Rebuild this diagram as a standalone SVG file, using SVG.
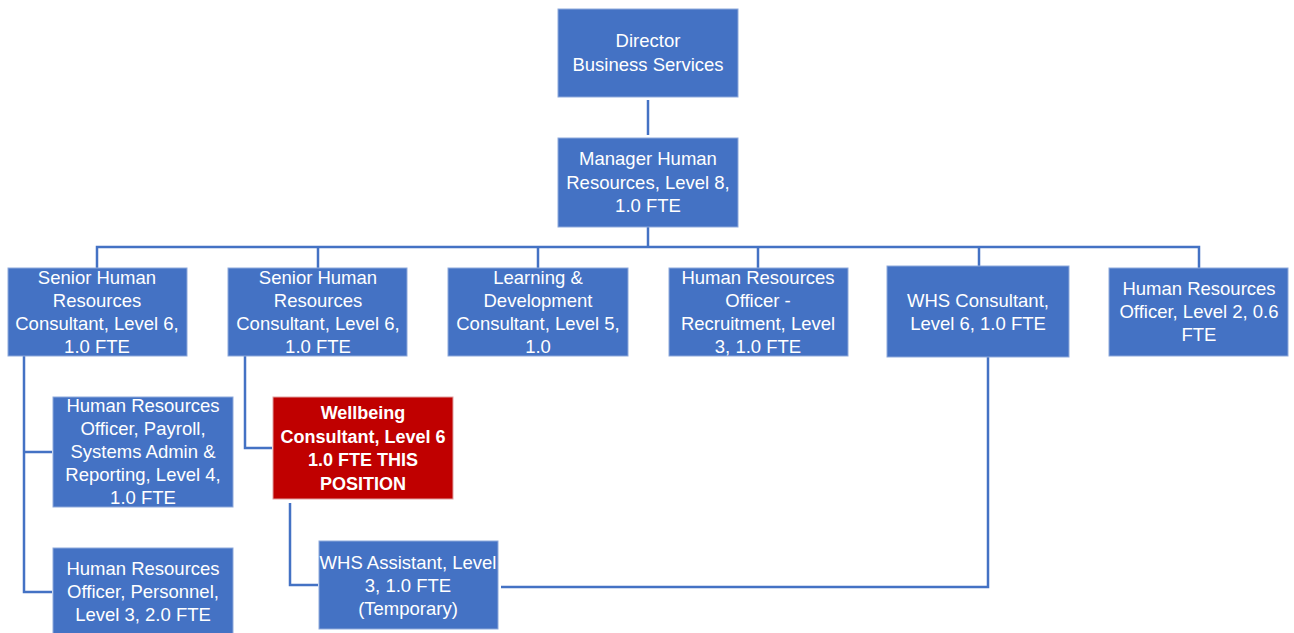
<svg xmlns="http://www.w3.org/2000/svg" width="1294" height="633" viewBox="0 0 1294 633">
<style>
.box{fill:#4472C4;stroke:#8EA9DB;stroke-width:1}
.red{fill:#C00000;stroke:#E0A0A0;stroke-width:1}
.t{font-family:"Liberation Sans",Arial,sans-serif;font-size:18.5px;fill:#ffffff;text-anchor:middle}
.b{font-weight:bold;font-size:18px}
.c{fill:none;stroke:#4472C4;stroke-width:2.5}
</style>
<rect width="1294" height="633" fill="#ffffff"/>
<g id="connectors">
<path class="c" d="M648 100V135"/>
<path class="c" d="M648 227V247"/>
<path class="c" d="M97 268V247H1199V268"/>
<path class="c" d="M318 247V268M538 247V268M758 247V268M979 247V266"/>
<path class="c" d="M24 356V592H52M24 452H52"/>
<path class="c" d="M245 356V448H272"/>
<path class="c" d="M290 503V585H318"/>
<path class="c" d="M988 357V587H501"/>
</g>
<g id="director"><rect class="box" x="558" y="9" width="180" height="88"/>
<text class="t"><tspan x="648" y="47">Director</tspan><tspan x="648" y="71">Business Services</tspan></text></g>
<g id="manager"><rect class="box" x="558" y="138" width="180" height="89"/>
<text class="t"><tspan x="648" y="165">Manager Human</tspan><tspan x="648" y="189">Resources, Level 8,</tspan><tspan x="648" y="212">1.0 FTE</tspan></text></g>
<g id="senior1"><rect class="box" x="8" y="268" width="179" height="88"/>
<text class="t"><tspan x="97" y="284">Senior Human</tspan><tspan x="97" y="307">Resources</tspan><tspan x="97" y="330">Consultant, Level 6,</tspan><tspan x="97" y="353">1.0 FTE</tspan></text></g>
<g id="senior2"><rect class="box" x="228" y="268" width="179" height="88"/>
<text class="t"><tspan x="318" y="284">Senior Human</tspan><tspan x="318" y="307">Resources</tspan><tspan x="318" y="330">Consultant, Level 6,</tspan><tspan x="318" y="353">1.0 FTE</tspan></text></g>
<g id="learning"><rect class="box" x="448" y="268" width="180" height="88"/>
<text class="t"><tspan x="538" y="284">Learning &amp;</tspan><tspan x="538" y="307">Development</tspan><tspan x="538" y="330">Consultant, Level 5,</tspan><tspan x="538" y="353">1.0</tspan></text></g>
<g id="recruitment"><rect class="box" x="669" y="268" width="179" height="88"/>
<text class="t"><tspan x="758" y="284">Human Resources</tspan><tspan x="758" y="307">Officer -</tspan><tspan x="758" y="330">Recruitment, Level</tspan><tspan x="758" y="353">3, 1.0 FTE</tspan></text></g>
<g id="whs-consultant"><rect class="box" x="887" y="266" width="182" height="91"/>
<text class="t"><tspan x="978" y="307">WHS Consultant,</tspan><tspan x="978" y="330">Level 6, 1.0 FTE</tspan></text></g>
<g id="hr-officer-l2"><rect class="box" x="1109" y="268" width="179" height="88"/>
<text class="t"><tspan x="1199" y="295">Human Resources</tspan><tspan x="1199" y="318">Officer, Level 2, 0.6</tspan><tspan x="1199" y="341">FTE</tspan></text></g>
<g id="payroll"><rect class="box" x="53" y="397" width="180" height="110"/>
<text class="t"><tspan x="143" y="412">Human Resources</tspan><tspan x="143" y="435">Officer, Payroll,</tspan><tspan x="143" y="458">Systems Admin &amp;</tspan><tspan x="143" y="481">Reporting, Level 4,</tspan><tspan x="143" y="504">1.0 FTE</tspan></text></g>
<g id="personnel"><rect class="box" x="53" y="548" width="180" height="90"/>
<text class="t"><tspan x="143" y="575">Human Resources</tspan><tspan x="143" y="598">Officer, Personnel,</tspan><tspan x="143" y="621">Level 3, 2.0 FTE</tspan></text></g>
<g id="wellbeing"><rect class="red" x="273" y="397" width="180" height="102"/>
<text class="t b"><tspan x="363" y="419">Wellbeing</tspan><tspan x="363" y="443">Consultant, Level 6</tspan><tspan x="363" y="466">1.0 FTE THIS</tspan><tspan x="363" y="490">POSITION</tspan></text></g>
<g id="whs-assistant"><rect class="box" x="319" y="541" width="179" height="88"/>
<text class="t"><tspan x="408" y="569">WHS Assistant, Level</tspan><tspan x="408" y="592">3, 1.0 FTE</tspan><tspan x="408" y="615">(Temporary)</tspan></text></g>
</svg>
